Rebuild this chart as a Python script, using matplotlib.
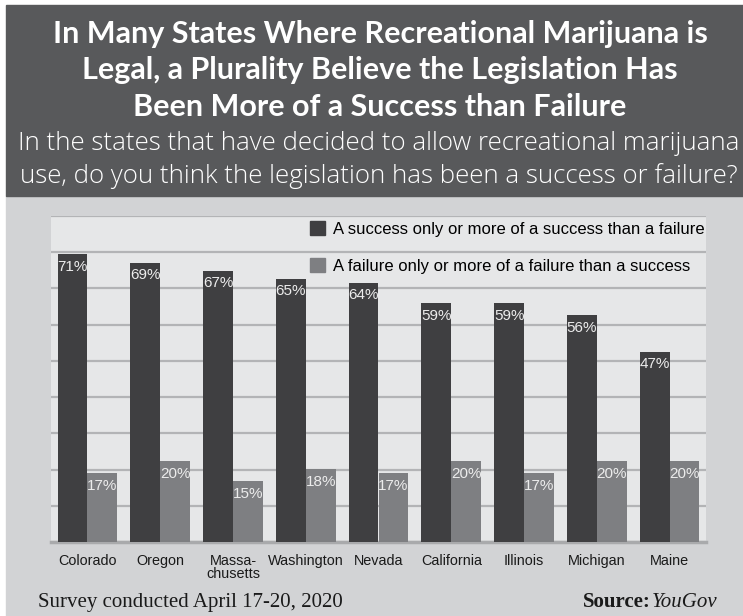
import numpy as np
import matplotlib.pyplot as plt
from matplotlib.patches import Rectangle, Patch

states = ["Colorado", "Oregon", "Massa-\nchusetts", "Washington", "Nevada",
          "California", "Illinois", "Michigan", "Maine"]
success = [71, 69, 67, 65, 64, 59, 59, 56, 47]
failure = [17, 20, 15, 18, 17, 20, 17, 20, 20]
series_names = ["A success only or more of a success than a failure",
                "A failure only or more of a failure than a success"]

title_lines = ["In Many States Where Recreational Marijuana is",
               "Legal, a Plurality Believe the Legislation Has",
               "Been More of a Success than Failure"]
subtitle_lines = ["In the states that have decided to allow recreational marijuana",
                  "use, do you think the legislation has been a success or failure?"]

dark = "#3f3f41"
light = "#7e7f82"
header_bg = "#58595b"
panel_bg = "#d2d3d5"
plot_bg = "#e6e7e8"
grid_c = "#b3b4b6"
sans = "Liberation Sans"

fig = plt.figure(figsize=(7.43, 6.16), dpi=100)
fig.patch.set_facecolor("white")

# grey panel and dark header band (figure pixel coords)
W, H = 743, 616
fig.patches.append(Rectangle((6 / W, 0), 1, 1 - 196 / H, transform=fig.transFigure,
                             color=panel_bg, zorder=0))
fig.patches.append(Rectangle((6 / W, 1 - 196 / H), 1, 191 / H, transform=fig.transFigure,
                             color=header_bg, zorder=0))

for i, line in enumerate(title_lines):
    fig.text(380 / W, 1 - (42.5 + 37 * i) / H, line, ha="center", va="baseline",
             color="white", fontsize=22, fontweight="bold",
             family=["Lato", "DejaVu Sans"])
for i, line in enumerate(subtitle_lines):
    fig.text(379 / W, 1 - (150 + 33 * i) / H, line, ha="center", va="baseline",
             color="white", fontsize=18.6, fontweight="light",
             family=["Open Sans", "DejaVu Sans"])

ax = fig.add_axes([51 / W, 1 - 542 / H, 655 / W, 326 / H], zorder=2)
ax.set_facecolor(plot_bg)

x = np.arange(len(states))
w = 0.41
top = 80.5
b1 = ax.bar(x - w / 2, success, w, color=dark, zorder=3)
b2 = ax.bar(x + w / 2, failure, w, color=light, zorder=3)

for bars, vals in ((b1, success), (b2, failure)):
    for r, v in zip(bars, vals):
        ax.annotate(f"{v}%", (r.get_x() + r.get_width() / 2, v), xytext=(0, -4),
                    textcoords="offset points", ha="center", va="top",
                    color="#ececec", fontsize=11, family=sans, zorder=4)

ax.set_xlim(-0.5, len(states) - 0.5)
ax.set_ylim(0, top)
ax.set_yticks(np.linspace(0, top, 10))
ax.yaxis.grid(True, color=grid_c, linewidth=1.6, zorder=1)
ax.set_axisbelow(True)
ax.tick_params(axis="y", left=False, labelleft=False)
ax.tick_params(axis="x", bottom=False, pad=5)
ax.set_xticks(x)
ax.set_xticklabels(states, fontsize=10.4, family=sans, color="#1a1a1a",
                   linespacing=0.95)
for s in ("left", "right", "top"):
    ax.spines[s].set_visible(False)
ax.spines["bottom"].set_color("#a9aaac")
ax.spines["bottom"].set_linewidth(2.5)

handles = [Patch(color=dark), Patch(color=light)]
ax.legend(handles, series_names, loc="upper left",
          bbox_to_anchor=((310 - 51) / 655, 1 - 5 / 326),
          frameon=False, prop={"family": sans, "size": 12},
          handlelength=0.9, handleheight=0.9, handletextpad=0.5,
          labelspacing=1.3, borderaxespad=0, borderpad=0)

fig.text(38 / W, 1 - 607 / H, "Survey conducted April 17-20, 2020", ha="left",
         va="baseline", fontsize=15, family="Liberation Serif", color="#1a1a1a")
fig.text(583 / W, 1 - 607 / H, "Source:", ha="left", va="baseline", fontsize=15,
         family="Liberation Serif", fontweight="bold", color="#1a1a1a")
fig.text(717 / W, 1 - 607 / H, "YouGov", ha="right", va="baseline", fontsize=15,
         family="Liberation Serif", style="italic", color="#1a1a1a")

fig.savefig("out.png", dpi=100, facecolor=fig.get_facecolor())
